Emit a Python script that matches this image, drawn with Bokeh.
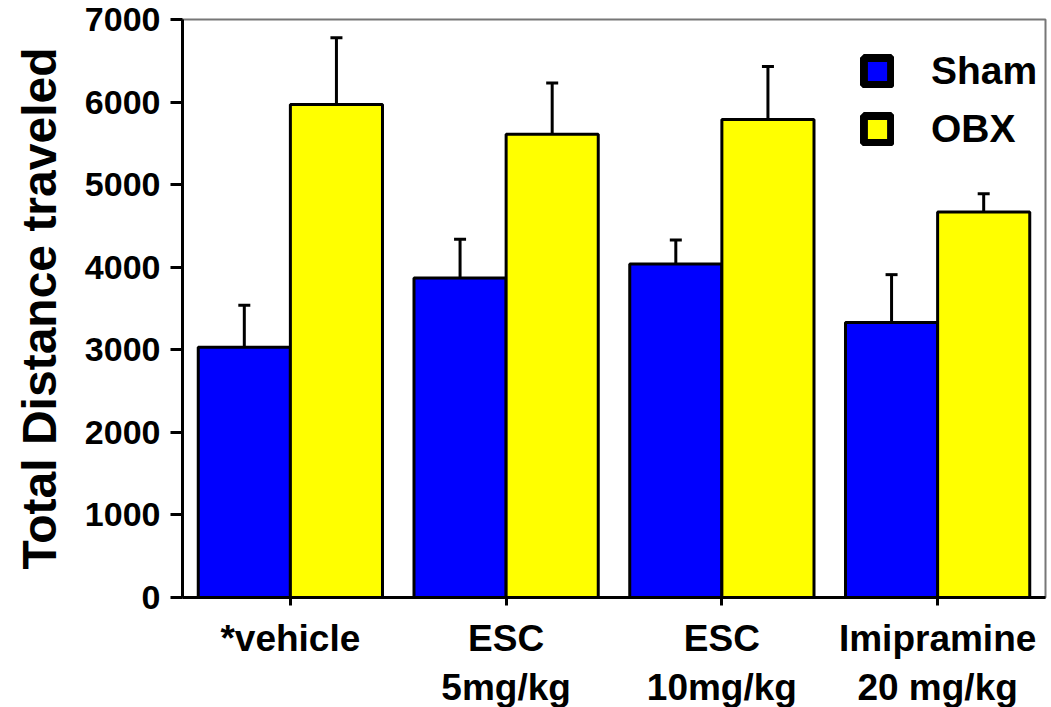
from bokeh.plotting import figure
from bokeh.models import ColumnDataSource, Whisker, TeeHead, Legend, LegendItem, FixedTicker, Range1d
from bokeh.transform import dodge
from bokeh.embed import file_html
from bokeh.resources import INLINE

groups = ["*vehicle", "ESC\n5mg/kg", "ESC\n10mg/kg", "Imipramine\n20 mg/kg"]
sham = [3030, 3870, 4040, 3330]
sham_err = [510, 470, 290, 580]
obx = [5970, 5610, 5790, 4670]
obx_err = [810, 620, 640, 220]
y_ticks = [0, 1000, 2000, 3000, 4000, 5000, 6000, 7000]
series = ["Sham", "OBX"]

FONT = "Liberation Sans"
BLUE = "#0000FF"
YELLOW = "#FFFF00"

src = ColumnDataSource(dict(
    g=groups,
    sham=sham, sham_up=[v + e for v, e in zip(sham, sham_err)],
    obx=obx, obx_up=[v + e for v, e in zip(obx, obx_err)],
))

p = figure(x_range=groups, y_range=Range1d(0, 7000),
           frame_width=863, frame_height=578,
           min_border_left=182, min_border_top=19, min_border_right=2, min_border_bottom=98,
           output_backend="svg", toolbar_location=None)

off = 0.2135
w = 0.427
p.vbar(x=dodge("g", -off, range=p.x_range), top="sham", width=w, source=src,
       fill_color=BLUE, line_color="black", line_width=3)
p.vbar(x=dodge("g", off, range=p.x_range), top="obx", width=w, source=src,
       fill_color=YELLOW, line_color="black", line_width=3)

for xo, lo, up in [(-off, "sham", "sham_up"), (off, "obx", "obx_up")]:
    wk = Whisker(source=src, base=dodge("g", xo, range=p.x_range), lower=lo, upper=up,
                 line_color="black", line_width=3, lower_head=None,
                 upper_head=TeeHead(size=12, line_width=3, line_color="black"),
                 level="underlay")
    p.add_layout(wk)

# legend-only renderers (no visible mark in the plot area)
nan_src = ColumnDataSource(dict(x=[groups[0]], y=[float("nan")]))
r1 = p.rect(x="x", y="y", width=0.1, height=1, source=nan_src, fill_color=BLUE,
            line_color="black", line_width=8)
r2 = p.rect(x="x", y="y", width=0.1, height=1, source=nan_src, fill_color=YELLOW,
            line_color="black", line_width=8)
leg = Legend(items=[LegendItem(label=series[0], renderers=[r1]),
                    LegendItem(label=series[1], renderers=[r2])],
             location=(678, 446), orientation="vertical",
             glyph_width=34, glyph_height=34, label_height=40, spacing=14,
             label_standoff=37, padding=0, margin=0,
             background_fill_alpha=0, border_line_alpha=0,
             label_text_font=FONT, label_text_font_style="bold",
             label_text_font_size="39px", label_text_color="black")
p.add_layout(leg)

p.grid.visible = False
p.outline_line_color = "#777777"
p.outline_line_width = 2

p.yaxis.ticker = FixedTicker(ticks=y_ticks)
p.yaxis.axis_label = "Total Distance traveled"
p.yaxis.axis_label_text_font = FONT
p.yaxis.axis_label_text_font_style = "bold"
p.yaxis.axis_label_text_font_size = "48px"
p.yaxis.axis_label_text_color = "black"
p.yaxis.axis_label_standoff = 16
p.yaxis.major_label_text_font = FONT
p.yaxis.major_label_text_font_style = "bold"
p.yaxis.major_label_text_font_size = "34px"
p.yaxis.major_label_text_color = "black"
p.yaxis.major_label_standoff = 10
p.yaxis.minor_tick_line_color = None
p.yaxis.major_tick_out = 12
p.yaxis.major_tick_in = 0
p.yaxis.major_tick_line_width = 3
p.yaxis.axis_line_width = 3
p.yaxis.axis_line_color = "black"

p.xaxis.major_label_text_font = FONT
p.xaxis.major_label_text_font_style = "bold"
p.xaxis.major_label_text_font_size = "37px"
p.xaxis.major_label_text_color = "black"
p.xaxis.major_label_standoff = 12
p.xaxis.major_tick_out = 8
p.xaxis.major_tick_in = 0
p.xaxis.major_tick_line_width = 3
p.xaxis.axis_line_width = 3
p.xaxis.axis_line_color = "black"

open("out.html", "w").write(file_html(p, INLINE))
